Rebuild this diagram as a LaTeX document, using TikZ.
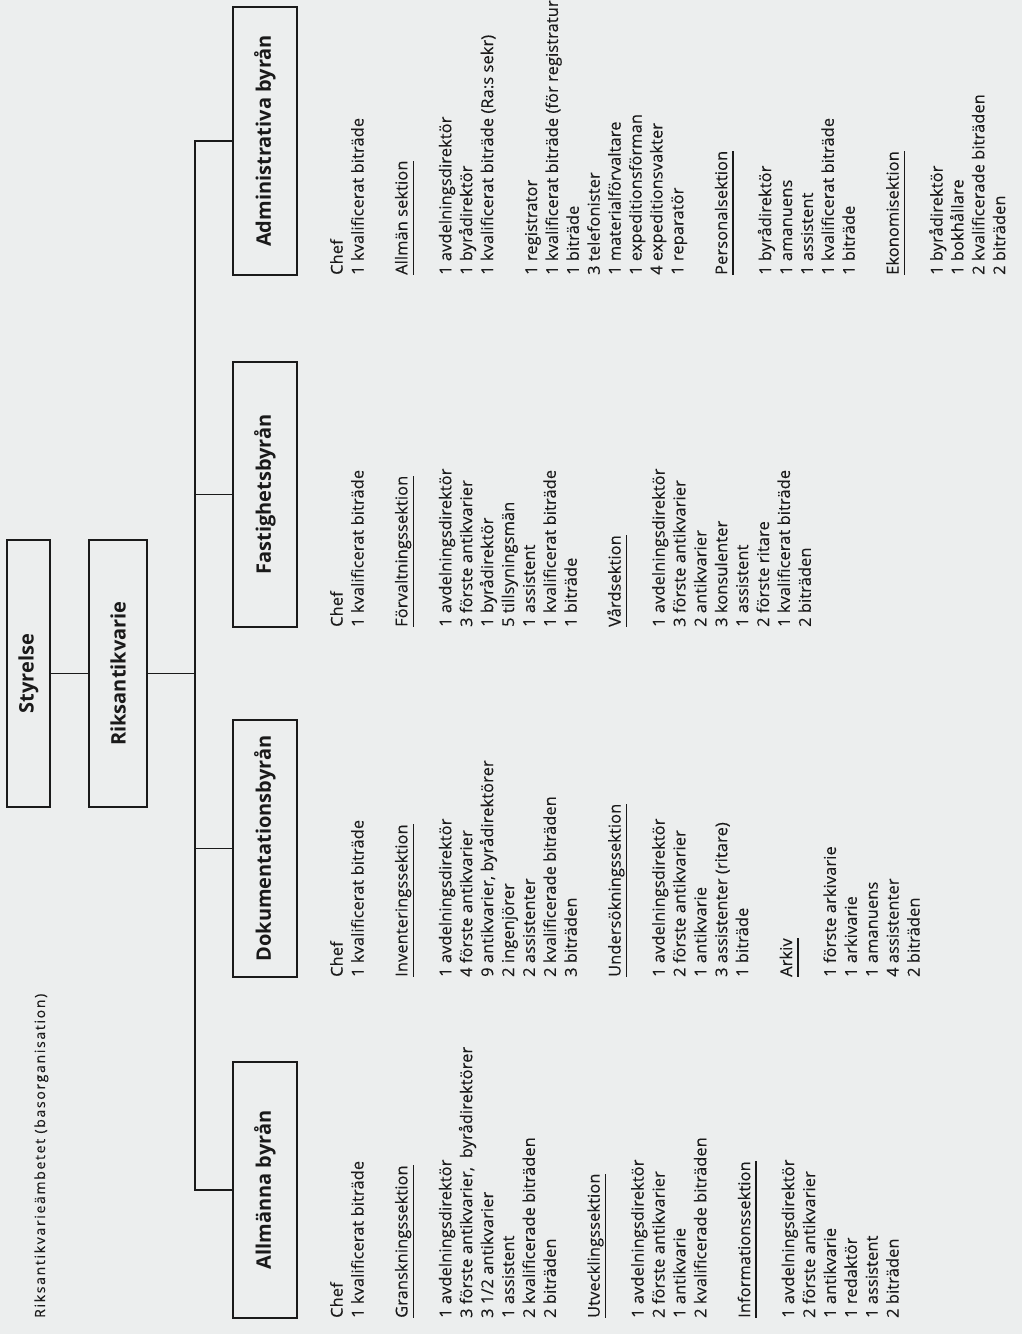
\documentclass[tikz,border=0pt]{standalone}
\usepackage{fontspec}
\setmainfont{Open Sans}
\newfontfamily\titlefont[LetterSpace=12,FakeBold=0.3]{Open Sans}
\newfontfamily\bodyfont[LetterSpace=1,FakeBold=0.3]{Open Sans}
\definecolor{bgc}{HTML}{ECEEEE}
\definecolor{inkc}{HTML}{1A1A1A}
\newcommand\Sect[1]{\setbox0\hbox{#1}\rlap{\rule[-6.5pt]{\wd0}{1.3pt}}\box0}
\newcommand\Ln[5]{\node[txt] (#1) at ({342.6+20.9*#2+43.9*#3},#4) {#5};}
\begin{document}
\begin{tikzpicture}[x=1pt,y=1pt,
  ink/.style={draw=inkc, line width=1.9pt},
  boxnode/.style={ink, rotate=90, inner sep=0pt, text=inkc,
    font=\fontsize{20}{23}\selectfont\bfseries},
  bureau/.style={boxnode, minimum height=64pt},
  txt/.style={rotate=90, anchor=base west, inner sep=0pt, text=inkc,
    font=\fontsize{16.3}{19}\selectfont\bodyfont},
]
\fill[bgc] (0,0) rectangle (1022,1334);
\useasboundingbox (0,0) rectangle (1022,1334);
\begin{scope}
\clip (0,0) rectangle (1022,1334);
% title
\node[txt, font={\fontsize{14}{17}\selectfont\titlefont}] (title) at (45,16) {Riksantikvarieämbetet (basorganisation)};
% top boxes
\node[boxnode, minimum width=267pt, minimum height=43pt] (sty) at (28.5,660.5) {Styrelse};
\node[boxnode, minimum width=267pt, minimum height=58pt] (riks) at (118,660.5) {Riksantikvarie};
% bureaus
\node[bureau, minimum width=256pt] (allm) at (265,144) {Allmänna byrån};
\node[bureau, minimum width=257pt] (dok) at (265,485.5) {Dokumentationsbyrån};
\node[bureau, minimum width=265pt] (fast) at (265,839.5) {Fastighetsbyrån};
\node[bureau, minimum width=268pt] (adm) at (265,1193) {Administrativa byrån};
% connectors
\coordinate (bus) at (195,0);
\draw[ink] (sty.south) -- (riks.north);
\draw[ink] (riks.south) -- (bus |- riks.south);
\draw[ink] (allm.north) -- (bus |- allm.north) -- (bus |- adm.north) -- (adm.north);
\draw[ink] (dok.north) -- (bus |- dok.north);
\draw[ink] (fast.north) -- (bus |- fast.north);
% Allmänna byrån
\Ln{a0}{0}{0}{16}{Chef}
\Ln{a1}{1}{0}{16}{1 kvalificerat biträde}
\Ln{a2}{1}{1}{16}{\Sect{Granskningssektion}}
\Ln{a3}{1}{2}{16}{1 avdelningsdirektör}
\Ln{a4}{2}{2}{16}{3 förste antikvarier,\hspace{9pt}byrådirektörer}
\Ln{a5}{3}{2}{16}{3 1/2 antikvarier}
\Ln{a6}{4}{2}{16}{1 assistent}
\Ln{a7}{5}{2}{16}{2 kvalificerade biträden}
\Ln{a8}{6}{2}{16}{2 biträden}
\Ln{a9}{6}{3}{16}{\Sect{Utvecklingssektion}}
\Ln{a10}{6}{4}{16}{1 avdelningsdirektör}
\Ln{a11}{7}{4}{16}{2 förste antikvarier}
\Ln{a12}{8}{4}{16}{1 antikvarie}
\Ln{a13}{9}{4}{16}{2 kvalificerade biträden}
\Ln{a14}{9}{5}{16}{\Sect{Informationssektion}}
\Ln{a15}{9}{6}{16}{1 avdelningsdirektör}
\Ln{a16}{10}{6}{16}{2 förste antikvarier}
\Ln{a17}{11}{6}{16}{1 antikvarie}
\Ln{a18}{12}{6}{16}{1 redaktör}
\Ln{a19}{13}{6}{16}{1 assistent}
\Ln{a20}{14}{6}{16}{2 biträden}
% Dokumentationsbyrån
\Ln{d0}{0}{0}{357}{Chef}
\Ln{d1}{1}{0}{357}{1 kvalificerat biträde}
\Ln{d2}{1}{1}{357}{\Sect{Inventeringssektion}}
\Ln{d3}{1}{2}{357}{1 avdelningsdirektör}
\Ln{d4}{2}{2}{357}{4 förste antikvarier}
\Ln{d5}{3}{2}{357}{9 antikvarier, byrådirektörer}
\Ln{d6}{4}{2}{357}{2 ingenjörer}
\Ln{d7}{5}{2}{357}{2 assistenter}
\Ln{d8}{6}{2}{357}{2 kvalificerade biträden}
\Ln{d9}{7}{2}{357}{3 biträden}
\Ln{d10}{7}{3}{357}{\Sect{Undersökningssektion}}
\Ln{d11}{7}{4}{357}{1 avdelningsdirektör}
\Ln{d12}{8}{4}{357}{2 förste antikvarier}
\Ln{d13}{9}{4}{357}{1 antikvarie}
\Ln{d14}{10}{4}{357}{3 assistenter (ritare)}
\Ln{d15}{11}{4}{357}{1 biträde}
\Ln{d16}{11}{5}{357}{\Sect{Arkiv}}
\Ln{d17}{11}{6}{357}{1 förste arkivarie}
\Ln{d18}{12}{6}{357}{1 arkivarie}
\Ln{d19}{13}{6}{357}{1 amanuens}
\Ln{d20}{14}{6}{357}{4 assistenter}
\Ln{d21}{15}{6}{357}{2 biträden}
% Fastighetsbyrån
\Ln{f0}{0}{0}{707}{Chef}
\Ln{f1}{1}{0}{707}{1 kvalificerat biträde}
\Ln{f2}{1}{1}{707}{\Sect{Förvaltningssektion}}
\Ln{f3}{1}{2}{707}{1 avdelningsdirektör}
\Ln{f4}{2}{2}{707}{3 förste antikvarier}
\Ln{f5}{3}{2}{707}{1 byrådirektör}
\Ln{f6}{4}{2}{707}{5 tillsyningsmän}
\Ln{f7}{5}{2}{707}{1 assistent}
\Ln{f8}{6}{2}{707}{1 kvalificerat biträde}
\Ln{f9}{7}{2}{707}{1 biträde}
\Ln{f10}{7}{3}{707}{\Sect{Vårdsektion}}
\Ln{f11}{7}{4}{707}{1 avdelningsdirektör}
\Ln{f12}{8}{4}{707}{3 förste antikvarier}
\Ln{f13}{9}{4}{707}{2 antikvarier}
\Ln{f14}{10}{4}{707}{3 konsulenter}
\Ln{f15}{11}{4}{707}{1 assistent}
\Ln{f16}{12}{4}{707}{2 förste ritare}
\Ln{f17}{13}{4}{707}{1 kvalificerat biträde}
\Ln{f18}{14}{4}{707}{2 biträden}
% Administrativa byrån
\Ln{m0}{0}{0}{1059}{Chef}
\Ln{m1}{1}{0}{1059}{1 kvalificerat biträde}
\Ln{m2}{1}{1}{1059}{\Sect{Allmän sektion}}
\Ln{m3}{1}{2}{1059}{1 avdelningsdirektör}
\Ln{m4}{2}{2}{1059}{1 byrådirektör}
\Ln{m5}{3}{2}{1059}{1 kvalificerat biträde (Ra:s sekr)}
\Ln{m6}{3}{3}{1059}{1 registrator}
\Ln{m7}{4}{3}{1059}{1 kvalificerat biträde (för registratur)}
\Ln{m8}{5}{3}{1059}{1 biträde}
\Ln{m9}{6}{3}{1059}{3 telefonister}
\Ln{m10}{7}{3}{1059}{1 materialförvaltare}
\Ln{m11}{8}{3}{1059}{1 expeditionsförman}
\Ln{m12}{9}{3}{1059}{4 expeditionsvakter}
\Ln{m13}{10}{3}{1059}{1 reparatör}
\Ln{m14}{10}{4}{1059}{\Sect{Personalsektion}}
\Ln{m15}{10}{5}{1059}{1 byrådirektör}
\Ln{m16}{11}{5}{1059}{1 amanuens}
\Ln{m17}{12}{5}{1059}{1 assistent}
\Ln{m18}{13}{5}{1059}{1 kvalificerat biträde}
\Ln{m19}{14}{5}{1059}{1 biträde}
\Ln{m20}{14}{6}{1059}{\Sect{Ekonomisektion}}
\Ln{m21}{14}{7}{1059}{1 byrådirektör}
\Ln{m22}{15}{7}{1059}{1 bokhållare}
\Ln{m23}{16}{7}{1059}{2 kvalificerade biträden}
\Ln{m24}{17}{7}{1059}{2 biträden}
\end{scope}
\end{tikzpicture}
\end{document}
